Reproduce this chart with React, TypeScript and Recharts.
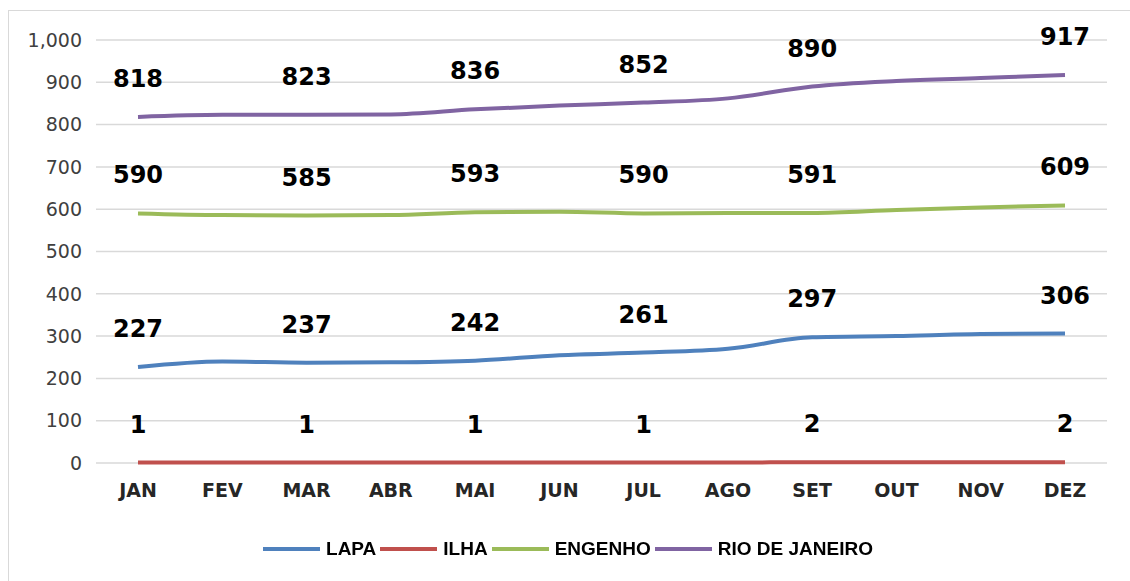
import React from 'react'
import { LineChart, Line, XAxis, YAxis, CartesianGrid, LabelList } from 'recharts'

const months = ['JAN', 'FEV', 'MAR', 'ABR', 'MAI', 'JUN', 'JUL', 'AGO', 'SET', 'OUT', 'NOV', 'DEZ']
const lapa = [227, 240, 237, 238, 242, 255, 261, 270, 297, 300, 305, 306]
const ilha = [1, 1, 1, 1, 1, 1, 1, 1, 2, 2, 2, 2]
const engenho = [590, 586, 585, 586, 593, 594, 590, 591, 591, 598, 604, 609]
const rio = [818, 823, 823, 824, 836, 845, 852, 862, 890, 903, 910, 917]
const yTicks = [0, 100, 200, 300, 400, 500, 600, 700, 800, 900, 1000]
const labeledMonths = [0, 2, 4, 6, 8, 11]

const series = [
  { key: 'lapa', name: 'LAPA', color: '#4f81bd' },
  { key: 'ilha', name: 'ILHA', color: '#c0504d' },
  { key: 'engenho', name: 'ENGENHO', color: '#9bbb59' },
  { key: 'rio', name: 'RIO DE JANEIRO', color: '#8064a2' },
]

const data = months.map((m, i) => ({
  month: m,
  lapa: lapa[i],
  ilha: ilha[i],
  engenho: engenho[i],
  rio: rio[i],
}))

const FONT = '"DejaVu Sans", Verdana, sans-serif'

// only some months carry a value label in the original
function PointLabel(props: any) {
  const { x, y, value, index } = props
  if (!labeledMonths.includes(index)) return null
  return (
    <text x={x} y={y - 30} textAnchor="middle" fontFamily={FONT} fontWeight="bold" fontSize={24} fill="#000">
      {value}
    </text>
  )
}

function LegendRow() {
  return (
    <div style={{ display: 'flex', justifyContent: 'center', alignItems: 'center', fontFamily: '"Liberation Sans", sans-serif', fontWeight: 'bold', fontSize: 19, color: '#000' }}>
      {series.map((s) => (
        <div key={s.key} style={{ display: 'flex', alignItems: 'center', marginRight: 4 }}>
          <div style={{ width: 57, height: 4, background: s.color, marginRight: 6 }} />
          <span>{s.name}</span>
        </div>
      ))}
    </div>
  )
}

export default function App() {
  return (
    <div style={{ position: 'fixed', top: 0, left: 0, width: 1130, height: 581, background: '#fff' }}>
      <div style={{ position: 'absolute', left: 8, top: 10, width: 1130, height: 580, border: '1px solid #d9d9d9' }} />
      <div style={{ position: 'absolute', left: 0, top: 0 }}>
        <LineChart width={1130} height={581} data={data} margin={{ top: 40, right: 23, bottom: 88, left: 0 }}>
          <CartesianGrid vertical={false} stroke="#d9d9d9" strokeWidth={1.5} />
          <XAxis
            dataKey="month"
            height={30}
            padding={{ left: 42, right: 42 }}
            axisLine={false}
            tickLine={false}
            tickSize={0}
            tickMargin={21}
            interval={0}
            tick={{ fontFamily: FONT, fontSize: 19, fontWeight: 'bold', fill: '#262626' }}
          />
          <YAxis
            width={96}
            domain={[0, 1000]}
            ticks={yTicks}
            axisLine={false}
            tickLine={false}
            tickSize={0}
            tickMargin={14}
            tickFormatter={(v: number) => v.toLocaleString('en-US')}
            tick={{ fontFamily: FONT, fontSize: 19, fill: '#404040' }}
          />
          {series.map((s) => (
            <Line
              key={s.key}
              dataKey={s.key}
              name={s.name}
              type="monotone"
              stroke={s.color}
              strokeWidth={4}
              dot={false}
              isAnimationActive={false}
            >
              <LabelList dataKey={s.key} content={PointLabel} />
            </Line>
          ))}
        </LineChart>
      </div>
      <div style={{ position: 'absolute', left: 0, top: 538, width: 1140 }}>
        <LegendRow />
      </div>
    </div>
  )
}
